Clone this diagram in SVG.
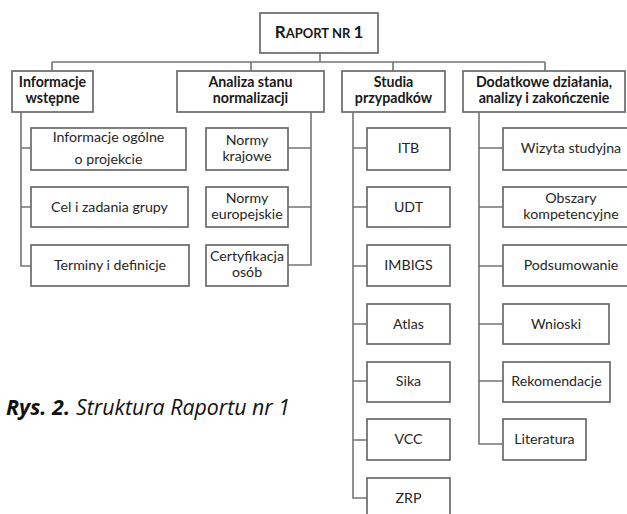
<svg xmlns="http://www.w3.org/2000/svg" width="627" height="514" viewBox="0 0 627 514">
<style>
.box{fill:#fff;stroke:#6a6a6a;stroke-width:1.7}
.ln{fill:none;stroke:#747474;stroke-width:1.6}
.t{font-family:Lato,"Open Sans",sans-serif;font-size:14.2px;fill:#262626;text-anchor:middle}
.b{font-weight:bold;fill:#1a1a1a}
.cap{font-family:"Open Sans","Liberation Sans",sans-serif;font-size:21px;font-style:italic;fill:#111}
</style>
<rect width="627" height="514" fill="#fff"/>
<g id="connectors">
<path class="ln" d="M320,53V62M52,62H545M52,62V71M251,62V71M393,62V71M545,62V71"/>
<path class="ln" d="M21,112V266H31M21,148H31M21,207H31"/>
<path class="ln" d="M311,112V265H288M311,148H288M311,207H288"/>
<path class="ln" d="M353,112V498H367M353,148H367M353,207H367M353,266H367M353,324H367M353,381H367M353,440H367"/>
<path class="ln" d="M479,112V444H503M479,148H503M479,207H503M479,266H503M479,324H503M479,381H503"/>
</g>
<g id="root"><rect class="box" x="260" y="13" width="118" height="40"/>
<text class="t b" x="319" y="38" style="font-size:17px"><tspan>R</tspan><tspan style="font-size:13px">APORT NR </tspan><tspan>1</tspan></text></g>
<g id="h-info"><rect class="box" x="12" y="71" width="81" height="41"/>
<text class="t b" x="52.5" y="87">Informacje</text><text class="t b" x="52.5" y="103">wstępne</text></g>
<g id="h-analiza"><rect class="box" x="177" y="71" width="147" height="41"/>
<text class="t b" x="250.5" y="87">Analiza stanu</text><text class="t b" x="250.5" y="103">normalizacji</text></g>
<g id="h-studia"><rect class="box" x="342" y="71" width="103" height="41"/>
<text class="t b" x="393.5" y="87">Studia</text><text class="t b" x="393.5" y="103">przypadków</text></g>
<g id="h-dodatkowe"><rect class="box" x="463" y="71" width="162" height="41"/>
<text class="t b" x="544" y="87">Dodatkowe działania,</text><text class="t b" x="544" y="103">analizy i zakończenie</text></g>
<g id="n-inf"><rect class="box" x="31" y="128" width="155" height="42"/>
<text class="t" x="108.5" y="142">Informacje ogólne</text><text class="t" x="108.5" y="164">o projekcie</text></g>
<g id="n-cel"><rect class="box" x="31" y="187" width="157" height="40"/>
<text class="t" x="109.5" y="212">Cel i zadania grupy</text></g>
<g id="n-term"><rect class="box" x="31" y="245" width="158" height="41"/>
<text class="t" x="110" y="270">Terminy i definicje</text></g>
<g id="n-kraj"><rect class="box" x="206" y="128" width="82" height="42"/>
<text class="t" x="247" y="145">Normy</text><text class="t" x="247" y="161">krajowe</text></g>
<g id="n-eur"><rect class="box" x="206" y="187" width="82" height="40"/>
<text class="t" x="247" y="203">Normy</text><text class="t" x="247" y="219">europejskie</text></g>
<g id="n-cert"><rect class="box" x="206" y="245" width="82" height="41"/>
<text class="t" x="247" y="261">Certyfikacja</text><text class="t" x="247" y="277">osób</text></g>
<g id="n-itb"><rect class="box" x="367" y="128" width="83" height="42"/><text class="t" x="408.5" y="153">ITB</text></g>
<g id="n-udt"><rect class="box" x="367" y="187" width="83" height="40"/><text class="t" x="408.5" y="212">UDT</text></g>
<g id="n-imbigs"><rect class="box" x="367" y="245" width="83" height="41"/><text class="t" x="408.5" y="270">IMBIGS</text></g>
<g id="n-atlas"><rect class="box" x="367" y="304" width="83" height="40"/><text class="t" x="408.5" y="329">Atlas</text></g>
<g id="n-sika"><rect class="box" x="367" y="362" width="83" height="40"/><text class="t" x="408.5" y="386">Sika</text></g>
<g id="n-vcc"><rect class="box" x="367" y="419" width="83" height="41"/><text class="t" x="408.5" y="444">VCC</text></g>
<g id="n-zrp"><rect class="box" x="367" y="478" width="83" height="42"/><text class="t" x="408.5" y="503">ZRP</text></g>
<g id="n-wizyta"><rect class="box" x="503" y="128" width="136" height="42"/><text class="t" x="571" y="153">Wizyta studyjna</text></g>
<g id="n-obszary"><rect class="box" x="503" y="187" width="136" height="40"/>
<text class="t" x="571" y="203">Obszary</text><text class="t" x="571" y="219">kompetencyjne</text></g>
<g id="n-podsum"><rect class="box" x="503" y="245" width="136" height="41"/><text class="t" x="571" y="270">Podsumowanie</text></g>
<g id="n-wnioski"><rect class="box" x="503" y="304" width="106" height="40"/><text class="t" x="556" y="329">Wnioski</text></g>
<g id="n-rekom"><rect class="box" x="503" y="362" width="107" height="40"/><text class="t" x="556.5" y="386">Rekomendacje</text></g>
<g id="n-lit"><rect class="box" x="503" y="419" width="83" height="41"/><text class="t" x="544.5" y="444">Literatura</text></g>
<g id="caption">
<text class="cap" x="6" y="415" font-weight="bold" textLength="64" lengthAdjust="spacingAndGlyphs">Rys. 2.</text>
<text class="cap" x="76" y="415" textLength="214" lengthAdjust="spacingAndGlyphs">Struktura Raportu nr 1</text>
</g>
</svg>
